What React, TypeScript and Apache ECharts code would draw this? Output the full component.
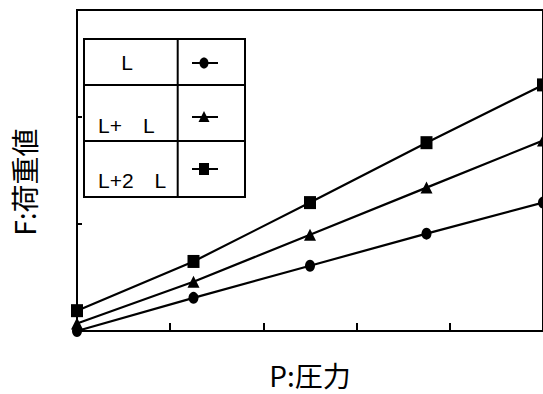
import React, { useEffect, useRef } from "react";
import * as echarts from "echarts";

const xValues = [0, 1.25, 2.5, 3.75, 5];
const seriesNames = ["L", "L+　L", "L+2　L"];
const circleValues = [0, 0.31, 0.61, 0.91, 1.2];
const triangleValues = [0.07, 0.46, 0.9, 1.34, 1.78];
const squareValues = [0.19, 0.65, 1.2, 1.76, 2.3];
const xTitle = "P:圧力";
const yTitle = "F:荷重値";

const pairs = (ys: number[]) => xValues.map((x, i) => [x, ys[i]]);

export default function App() {
  const ref = useRef<HTMLDivElement>(null);
  useEffect(() => {
    if (!ref.current) return;
    const chart = echarts.init(ref.current, null, { renderer: "svg" });
    const lineStyle = { color: "#000", width: 2.2 };
    const cjk = "Noto Sans CJK JP";
    const latin = "Liberation Sans";
    const tx = 84, ty = 39, tw = 161, th = 158, colX = 177.7, r1 = 85, r2 = 141;
    const mx = 204;
    const legY = [63, 117, 169];
    const tableText = (text: string, x: number, y: number, align: string) => ({
      type: "text",
      x,
      y,
      style: { text, fontSize: 21, lineHeight: 21, fontFamily: latin, fill: "#000", align, verticalAlign: "middle" },
      z: 102,
    });
    chart.setOption({
      animation: false,
      backgroundColor: "#fff",
      grid: {
        left: 77,
        top: 10,
        width: 467.5,
        height: 321,
        show: true,
        borderColor: "#000",
        borderWidth: 2,
      },
      xAxis: {
        type: "value",
        min: 0,
        max: 5,
        interval: 1,
        axisLine: { show: true, lineStyle: { color: "#000", width: 2 } },
        axisTick: { show: true, inside: true, length: 8, lineStyle: { color: "#000", width: 2 } },
        axisLabel: { show: false },
        splitLine: { show: false },
      },
      yAxis: {
        type: "value",
        min: 0,
        max: 3,
        interval: 1,
        axisLine: { show: true, lineStyle: { color: "#000", width: 2 } },
        axisTick: { show: true, inside: true, length: 5, lineStyle: { color: "#000", width: 2 } },
        axisLabel: { show: false },
        splitLine: { show: false },
      },
      series: [
        {
          name: seriesNames[0],
          type: "line",
          data: pairs(circleValues),
          symbol: "circle",
          symbolSize: [10, 12],
          itemStyle: { color: "#000" },
          lineStyle,
          clip: false,
        },
        {
          name: seriesNames[1],
          type: "line",
          data: pairs(triangleValues),
          symbol: "triangle",
          symbolSize: [12, 12],
          itemStyle: { color: "#000" },
          lineStyle,
          clip: false,
        },
        {
          name: seriesNames[2],
          type: "line",
          data: pairs(squareValues),
          symbol: "rect",
          symbolSize: [12, 13],
          itemStyle: { color: "#000" },
          lineStyle,
          clip: false,
        },
      ],
      graphic: [
        {
          type: "rect",
          shape: { x: tx, y: ty, width: tw, height: th },
          style: { fill: "#fff", stroke: "#000", lineWidth: 2 },
          z: 100,
        },
        { type: "line", shape: { x1: colX, y1: ty, x2: colX, y2: ty + th }, style: { stroke: "#000", lineWidth: 2 }, z: 101 },
        { type: "line", shape: { x1: tx, y1: r1, x2: tx + tw, y2: r1 }, style: { stroke: "#000", lineWidth: 2 }, z: 101 },
        { type: "line", shape: { x1: tx, y1: r2, x2: tx + tw, y2: r2 }, style: { stroke: "#000", lineWidth: 2 }, z: 101 },
        tableText(seriesNames[0], 127, 62, "center"),
        tableText(seriesNames[1], 98, 125, "left"),
        tableText(seriesNames[2], 98, 180, "left"),
        ...legY.map((y) => ({
          type: "line",
          shape: { x1: 192, y1: y, x2: 218, y2: y },
          style: { stroke: "#000", lineWidth: 2 },
          z: 102,
        })),
        {
          type: "ellipse",
          shape: { cx: mx, cy: legY[0], rx: 4.5, ry: 5.5 },
          style: { fill: "#000" },
          z: 103,
        },
        {
          type: "polygon",
          shape: { points: [[mx, legY[1] - 6], [mx - 5.5, legY[1] + 5], [mx + 5.5, legY[1] + 5]] },
          style: { fill: "#000" },
          z: 103,
        },
        {
          type: "rect",
          shape: { x: mx - 5, y: legY[2] - 6, width: 10, height: 12 },
          style: { fill: "#000" },
          z: 103,
        },
        {
          type: "text",
          x: 310,
          y: 375,
          style: { text: xTitle, fontSize: 28, lineHeight: 28, fontFamily: cjk, fill: "#000", align: "center", verticalAlign: "middle" },
        },
        {
          type: "text",
          x: 24,
          y: 182,
          rotation: Math.PI / 2,
          style: { text: yTitle, fontSize: 28, lineHeight: 28, fontFamily: cjk, fill: "#000", align: "center", verticalAlign: "middle" },
        },
      ],
    });
    return () => chart.dispose();
  }, []);
  return (
    <div
      ref={ref}
      style={{ position: "fixed", left: 0, top: 0, width: 543, height: 394, background: "#fff" }}
    />
  );
}
